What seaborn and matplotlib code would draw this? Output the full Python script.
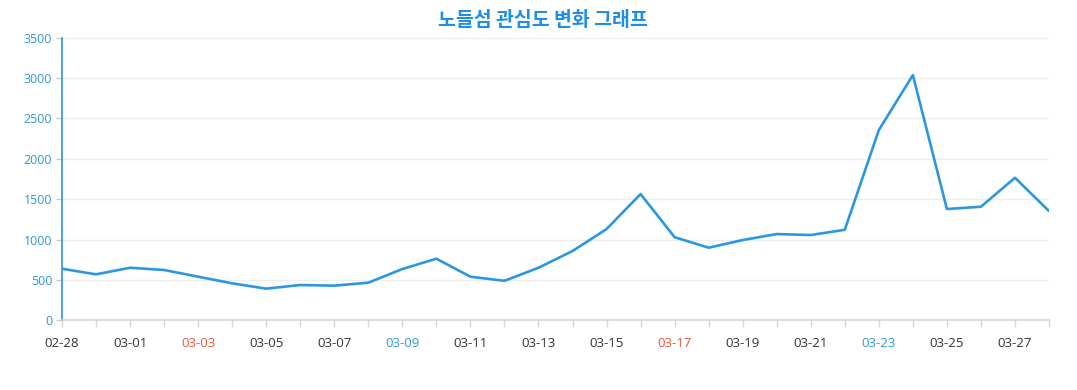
import matplotlib
matplotlib.use("Agg")
import matplotlib.pyplot as plt
import seaborn as sns
import pandas as pd

dates = ["02-28", "02-29"] + [f"03-{d:02d}" for d in range(1, 29)]
values = [640, 570, 652, 624, 541, 459, 393, 438, 430, 467,
          636, 764, 541, 490, 652, 859, 1131, 1564, 1030, 900,
          995, 1069, 1057, 1122, 2356, 3037, 1379, 1407, 1766, 1354]
red_labels = ["03-03", "03-17"]
blue_labels = ["03-09", "03-23"]
title = "노들섬 관심도 변화 그래프"
yticks = [0, 500, 1000, 1500, 2000, 2500, 3000, 3500]

df = pd.DataFrame({"pos": range(len(dates)), "date": dates, "value": values})

sns.set_theme(style="white")
plt.rcParams['font.family'] = ['Open Sans', 'Noto Sans CJK KR', 'DejaVu Sans']

W, H = 1077, 390
fig = plt.figure(figsize=(W / 100, H / 100), dpi=100)
ax = fig.add_axes([62 / W, 1 - 320.4 / H, (1049 - 62) / W, (320.4 - 37.7) / H])

line_color = "#2b97e3"
sns.lineplot(data=df, x="pos", y="value", ax=ax, color=line_color, linewidth=1.9)

ax.set_xlim(0, len(dates) - 1)
ax.set_ylim(0, 3500)
ax.set_yticks(yticks)
ax.set_yticklabels([str(v) for v in yticks], color="#3197d6", fontsize=9)
ax.set_xticks(range(len(dates)))
labels = [d if i % 2 == 0 else "" for i, d in enumerate(dates)]
ax.set_xticklabels(labels, fontsize=9.5)
for lbl, d in zip(ax.get_xticklabels(), dates):
    if d in red_labels:
        lbl.set_color("#e0593f")
    elif d in blue_labels:
        lbl.set_color("#2e9bd6")
    else:
        lbl.set_color("#333333")

ax.set_xlabel("")
ax.set_ylabel("")
ax.grid(axis="y", color="#eeeeee", linewidth=1)
ax.set_axisbelow(True)

for s in ["top", "right"]:
    ax.spines[s].set_visible(False)
ax.spines["left"].set_color("#2f95dc")
ax.spines["left"].set_linewidth(1.2)
ax.spines["bottom"].set_color("#d6d6d6")
ax.spines["bottom"].set_linewidth(1.2)

ax.tick_params(axis="x", which="major", direction="out", length=5, width=1,
               color="#d6d6d6", pad=7, bottom=True)
ax.tick_params(axis="y", which="major", direction="out", length=4, width=1,
               color="#cccccc", pad=3, left=True)

fig.text(543 / W, 1 - 21 / H, title, ha="center", va="center",
         fontsize=14, fontweight="bold", color="#1e8fe6",
         family=['Noto Sans CJK KR', 'DejaVu Sans'])

fig.savefig("out.png", dpi=100)
